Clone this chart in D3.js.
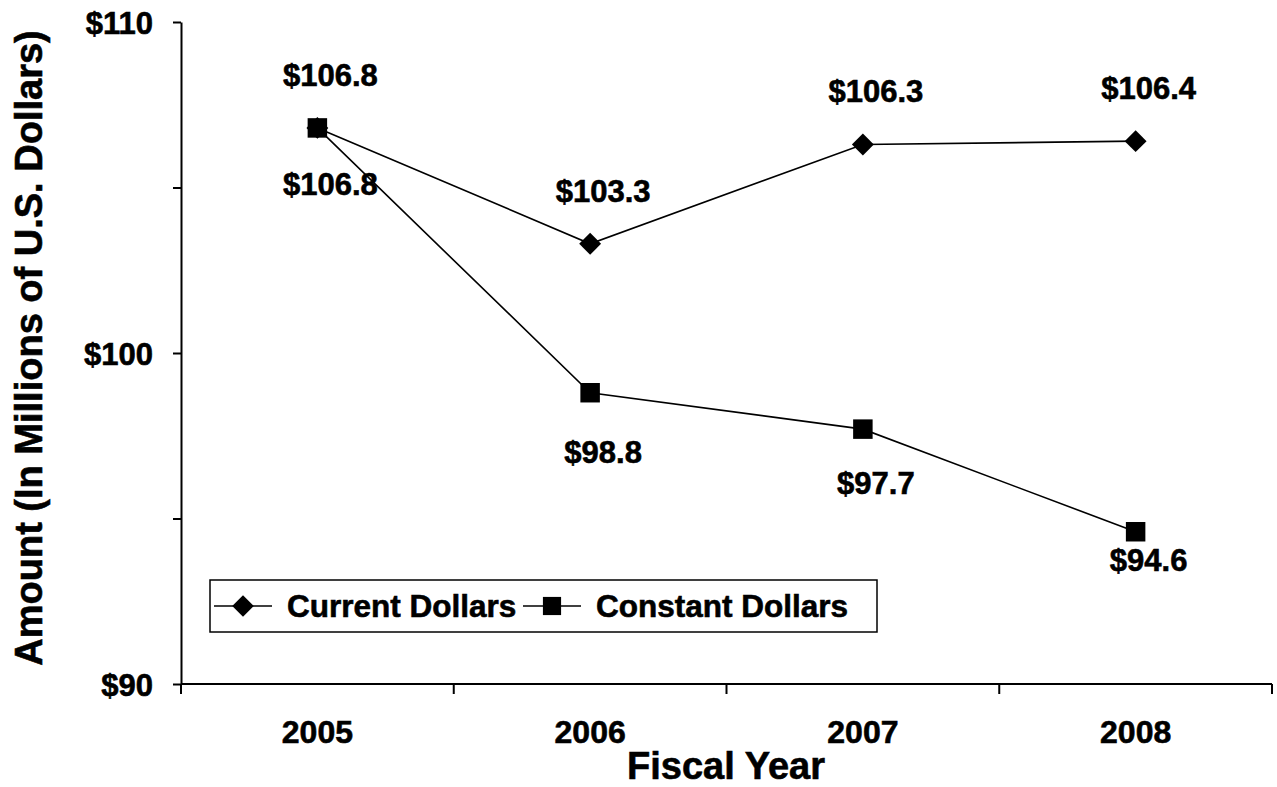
<!DOCTYPE html>
<html>
<head>
<meta charset="utf-8">
<script src="https://cdn.jsdelivr.net/npm/d3@7"></script>
<style>
  body { margin: 0; background: #fff; }
  text { font-family: "Liberation Sans", Arial, sans-serif; font-weight: bold; fill: #000;
         stroke: #000; stroke-width: 0.6px; }
</style>
</head>
<body>
<svg id="chart" width="1277" height="787"></svg>
<script>
// data
var years = ["2005", "2006", "2007", "2008"];
var currentDollars = [106.8, 103.3, 106.3, 106.4];
var constantDollars = [106.8, 98.8, 97.7, 94.6];
var yTicks = [90, 95, 100, 105, 110];
var yTickLabels = ["$90", "", "$100", "", "$110"];

// small nudges for the constant-dollar labels (they were placed by hand)
var constLabelDy = [67, 70, 65, 39];

var svg = d3.select("#chart");
var plotL = 181, plotR = 1272, plotT = 22, plotB = 684;

var x = d3.scaleBand().domain(years).range([plotL, plotR]);
var y = d3.scaleLinear().domain([90, 110]).range([plotB, plotT]);
var cx = function (d, i) { return x(years[i]) + x.bandwidth() / 2; };

// y axis
var yAxis = svg.append("g").attr("transform", "translate(" + plotL + ",0)")
  .call(d3.axisLeft(y).tickValues(yTicks).tickSize(8).tickSizeOuter(0)
    .tickFormat(function (d, i) { return yTickLabels[i]; }));
yAxis.select(".domain").attr("stroke", "#000").attr("stroke-width", 2);
yAxis.selectAll(".tick line").attr("stroke", "#000").attr("stroke-width", 2);
yAxis.selectAll(".tick text").attr("x", -28).attr("dy", "0.36em")
  .style("font-size", "31px").attr("fill", "#000");

// x axis, ticks between categories
var xAxis = svg.append("g").attr("transform", "translate(0," + plotB + ")");
xAxis.append("line").attr("x1", plotL).attr("x2", plotR)
  .attr("stroke", "#000").attr("stroke-width", 2);
xAxis.selectAll(".sep").data(years.concat(["end"])).enter().append("line")
  .attr("x1", function (d, i) { return plotL + i * x.bandwidth(); })
  .attr("x2", function (d, i) { return plotL + i * x.bandwidth(); })
  .attr("y1", 0).attr("y2", 10)
  .attr("stroke", "#000").attr("stroke-width", 2);
xAxis.selectAll(".lab").data(years).enter().append("text")
  .attr("x", function (d) { return x(d) + x.bandwidth() / 2; })
  .attr("y", 59).attr("text-anchor", "middle")
  .style("font-size", "32px").text(function (d) { return d; });

// axis titles
svg.append("text").attr("x", 726).attr("y", 779).attr("text-anchor", "middle")
  .style("font-size", "38px").text("Fiscal Year");
svg.append("text").attr("transform", "translate(42,348) rotate(-90)")
  .attr("text-anchor", "middle").style("font-size", "38px")
  .text("Amount (In Millions of U.S. Dollars)");

var line = d3.line().x(cx).y(function (d) { return y(d); });

// current dollars
svg.append("path").datum(currentDollars).attr("d", line)
  .attr("fill", "none").attr("stroke", "#000").attr("stroke-width", 1.6);
svg.selectAll(".dia").data(currentDollars).enter().append("path")
  .attr("transform", function (d, i) { return "translate(" + cx(d, i) + "," + y(d) + ") rotate(45)"; })
  .attr("d", d3.symbol().type(d3.symbolSquare).size(240))
  .attr("fill", "#000");

// constant dollars
svg.append("path").datum(constantDollars).attr("d", line)
  .attr("fill", "none").attr("stroke", "#000").attr("stroke-width", 1.6);
svg.selectAll(".sq").data(constantDollars).enter().append("path")
  .attr("transform", function (d, i) { return "translate(" + cx(d, i) + "," + y(d) + ")"; })
  .attr("d", d3.symbol().type(d3.symbolSquare).size(380))
  .attr("fill", "#000");

// data labels
svg.selectAll(".curLab").data(currentDollars).enter().append("text")
  .attr("x", function (d, i) { return cx(d, i) + 13; })
  .attr("y", function (d) { return y(d) - 42; })
  .attr("text-anchor", "middle").style("font-size", "31px")
  .text(function (d) { return "$" + d.toFixed(1); });
svg.selectAll(".conLab").data(constantDollars).enter().append("text")
  .attr("x", function (d, i) { return cx(d, i) + 13; })
  .attr("y", function (d, i) { return y(d) + constLabelDy[i]; })
  .attr("text-anchor", "middle").style("font-size", "31px")
  .text(function (d) { return "$" + d.toFixed(1); });

// legend
var lg = svg.append("g").attr("transform", "translate(210,580)");
lg.append("rect").attr("width", 667).attr("height", 52)
  .attr("fill", "#fff").attr("stroke", "#000").attr("stroke-width", 1.5);
var items = [
  { name: "Current Dollars", x0: 4, rot: 45, size: 230 },
  { name: "Constant Dollars", x0: 313, rot: 0, size: 330 }
];
items.forEach(function (it) {
  lg.append("line").attr("x1", it.x0).attr("x2", it.x0 + 58).attr("y1", 26).attr("y2", 26)
    .attr("stroke", "#000").attr("stroke-width", 1.6);
  lg.append("path").attr("transform", "translate(" + (it.x0 + 29) + ",26) rotate(" + it.rot + ")")
    .attr("d", d3.symbol().type(d3.symbolSquare).size(it.size)).attr("fill", "#000");
  lg.append("text").attr("x", it.x0 + 73).attr("y", 37).style("font-size", "31.5px").text(it.name);
});
</script>
</body>
</html>
